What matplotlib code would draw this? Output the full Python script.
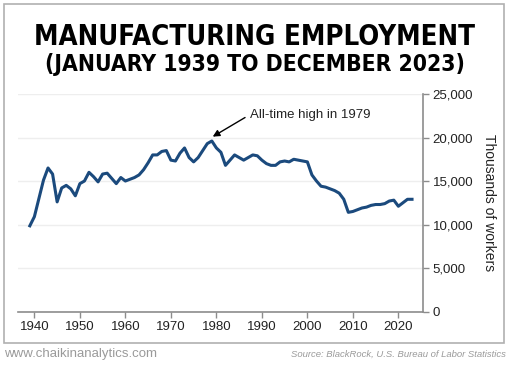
import numpy as np
import matplotlib
matplotlib.use('Agg')
import matplotlib.pyplot as plt
from matplotlib.patches import Rectangle

# annual manufacturing employment, thousands of workers
years = np.arange(1939, 2024)
workers = [9850, 10900, 13000, 15100, 16500, 15800, 12600, 14200, 14500, 14100,
           13300, 14700, 15000, 16000, 15500, 14900, 15800, 15900, 15300, 14700,
           15400, 15000, 15200, 15400, 15700, 16300, 17100, 18000, 18000, 18400,
           18500, 17400, 17300, 18200, 18800, 17700, 17200, 17700, 18500, 19300,
           19600, 18800, 18300, 16800, 17400, 18000, 17700, 17400, 17700, 18000,
           17900, 17400, 17000, 16800, 16800, 17200, 17300, 17200, 17500, 17400,
           17300, 17200, 15700, 15000, 14400, 14300, 14100, 13900, 13600, 12900,
           11400, 11500, 11700, 11900, 12000, 12200, 12300, 12300, 12400, 12700,
           12800, 12100, 12500, 12900, 12900]
xticks = [1940, 1950, 1960, 1970, 1980, 1990, 2000, 2010, 2020]
yticks = [0, 5000, 10000, 15000, 20000, 25000]

txt = ['Liberation Sans', 'DejaVu Sans']
grey = '#8c8c8c'

fig = plt.figure(figsize=(5.1, 3.67), dpi=100)
fig.patches.append(Rectangle((4/510, 24/367), 500/510, 339/367, transform=fig.transFigure,
                             fill=False, edgecolor='#b0b0b0', linewidth=1.2))

ax = fig.add_axes([0.0353, 0.1512, 0.794, 0.5926])
ax.plot(years, workers, color='#1b4a7d', linewidth=2.2, solid_joinstyle='round')
ax.set_xlim(1936.4, 2025.4)
ax.set_ylim(0, 25000)

ax.set_xticks(xticks)
ax.set_yticks(yticks)
ax.set_yticklabels(['{:,}'.format(v) for v in yticks])
ax.yaxis.tick_right()
ax.yaxis.set_label_position('right')
for s in ['top', 'left']:
    ax.spines[s].set_visible(False)
for s in ['bottom', 'right']:
    ax.spines[s].set_color(grey)
    ax.spines[s].set_linewidth(1.2)
ax.tick_params(colors=grey, length=4, width=1, labelcolor='#222222', labelsize=9.5, pad=3)
for lab in ax.get_xticklabels() + ax.get_yticklabels():
    lab.set_family(txt)
ax.grid(axis='y', color='#eeeeee', linewidth=1)
ax.set_axisbelow(True)
ax.set_ylabel('Thousands of workers', rotation=270, labelpad=16, fontsize=10,
              family=txt, color='#222222')

# arrow to the 1979 peak, label beside its tail
ax.annotate('', xy=(1979.2, 20100), xytext=(1986.3, 22300),
            arrowprops=dict(arrowstyle='-|>', color='black', lw=1,
                            shrinkA=0, shrinkB=0, mutation_scale=10))
ax.text(1987.4, 22550, 'All-time high in 1979', fontsize=9.5, family=txt,
        color='#222222', va='center', ha='left')

title_font = ['Liberation Sans Narrow', 'DejaVu Sans']
fig.text(0.5, 0.9005, 'MANUFACTURING EMPLOYMENT', ha='center', va='center',
         fontsize=19.8, fontweight='heavy', family=title_font, fontstretch='condensed')
fig.text(0.5, 0.823, '(JANUARY 1939 TO DECEMBER 2023)', ha='center', va='center',
         fontsize=16.4, fontweight='heavy', family=title_font, fontstretch='condensed')

fig.text(4/510, 1 - 354/367, 'www.chaikinanalytics.com', ha='left', va='center',
         fontsize=9.5, color='#9a9a9a', family=txt)
fig.text(506/510, 1 - 354/367, 'Source: BlackRock, U.S. Bureau of Labor Statistics',
         ha='right', va='center', fontsize=6.8, color='#9a9a9a', style='italic', family=txt)

fig.savefig('out.png', dpi=100)
